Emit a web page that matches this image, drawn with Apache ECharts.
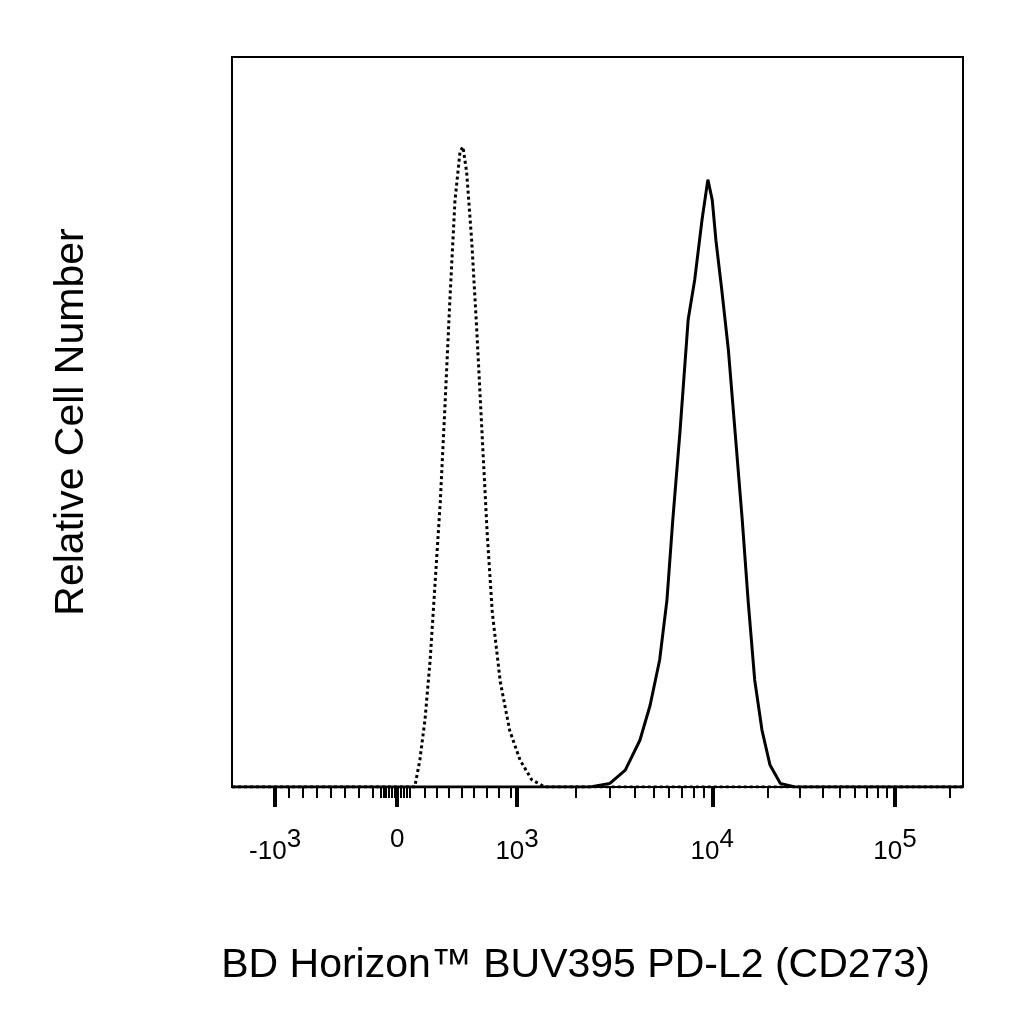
<!DOCTYPE html>
<html><head><meta charset="utf-8">
<script src="https://cdn.jsdelivr.net/npm/echarts@6/dist/echarts.min.js"></script>
<style>html,body{margin:0;background:#fff}#c{width:1024px;height:1024px}</style></head>
<body><div id="c"></div>
<script>
// x in display channel units (0..1000), y relative count
const isotype = [[0,0],[250,0],[257,3.7],[264,9.2],[271,17.3],[278,28.2],[285,39.2],[291,51.5],[298,66.6],[305,80.3],[312,87.1],[316,87.7],[321,84.2],[328,74.7],[335,62.3],[342,48.6],[349,34.9],[356,24.0],[367,14.4],[380,7.7],[394,3.7],[410,1.0],[428,0],[1000,0]];
const stained = [[0,0],[490,0],[517,0.5],[538,2.3],[558,6.4],[572,11.2],[585,17.4],[595,25.6],[603,36.6],[613,48.9],[624,64.0],[633,69.5],[643,77.7],[651,83.2],[657,80.4],[662,74.9],[670,68.1],[679,59.9],[688,48.9],[698,36.6],[706,25.6],[715,14.7],[725,7.8],[736,3.0],[750,0.5],[770,0],[1000,0]];
const majorTicks = [59,226,390,657,907];
const majorLabels = ['-10{s|3}','0','10{s|3}','10{s|4}','10{s|5}'];
const minorTicks = [];
for (let k=1;k<=7;k++) minorTicks.push(59+k*19);
for (let c=203;c<=246;c+=4) minorTicks.push(c);
for (let k=1;k<=8;k++) minorTicks.push(246+k*17);
for (let k=2;k<=9;k++) minorTicks.push(390+(657-390)*Math.log10(k));
for (let k=2;k<=9;k++) minorTicks.push(657+(907-657)*Math.log10(k));
minorTicks.push(907+250*Math.log10(2));
const chart = echarts.init(document.getElementById('c'));
const axBase = {type:'value',min:0,max:1000,position:'bottom',axisLine:{show:false},splitLine:{show:false}};
chart.setOption({
  animation:false,
  grid:{left:232,right:61,top:57,bottom:237,show:true,borderColor:'#000',borderWidth:2},
  xAxis:[
    Object.assign({},axBase,{
      name:'BD Horizon™ BUV395 PD-L2 (CD273)',nameLocation:'middle',nameGap:158,
      nameTextStyle:{fontSize:41,color:'#000',fontFamily:'Liberation Sans',padding:[0,44,0,0]},
      axisTick:{show:true,customValues:majorTicks,length:20,lineStyle:{width:4,color:'#000'}},
      axisLabel:{show:true,customValues:majorTicks,margin:40,color:'#000',fontSize:26,fontFamily:'Liberation Sans',
        formatter:v=>majorLabels[majorTicks.indexOf(Math.round(v))]||'',
        rich:{s:{fontSize:26,verticalAlign:'bottom',padding:[0,0,24,0],color:'#000',fontFamily:'Liberation Sans'}}}
    }),
    Object.assign({},axBase,{
      axisTick:{show:true,customValues:minorTicks,length:11,lineStyle:{width:2,color:'#000'}},
      axisLabel:{show:false}
    })
  ],
  yAxis:{type:'value',min:0,max:100,name:'Relative Cell Number',nameLocation:'middle',nameGap:140,
    nameTextStyle:{fontSize:41,color:'#000',fontFamily:'Liberation Sans'},
    axisLine:{show:false},axisTick:{show:false},axisLabel:{show:false},splitLine:{show:false}},
  series:[
    {type:'line',data:isotype,showSymbol:false,lineStyle:{color:'#000',width:3,type:[3,3]}},
    {type:'line',data:stained,showSymbol:false,lineStyle:{color:'#000',width:3}}
  ]
});
</script></body></html>
